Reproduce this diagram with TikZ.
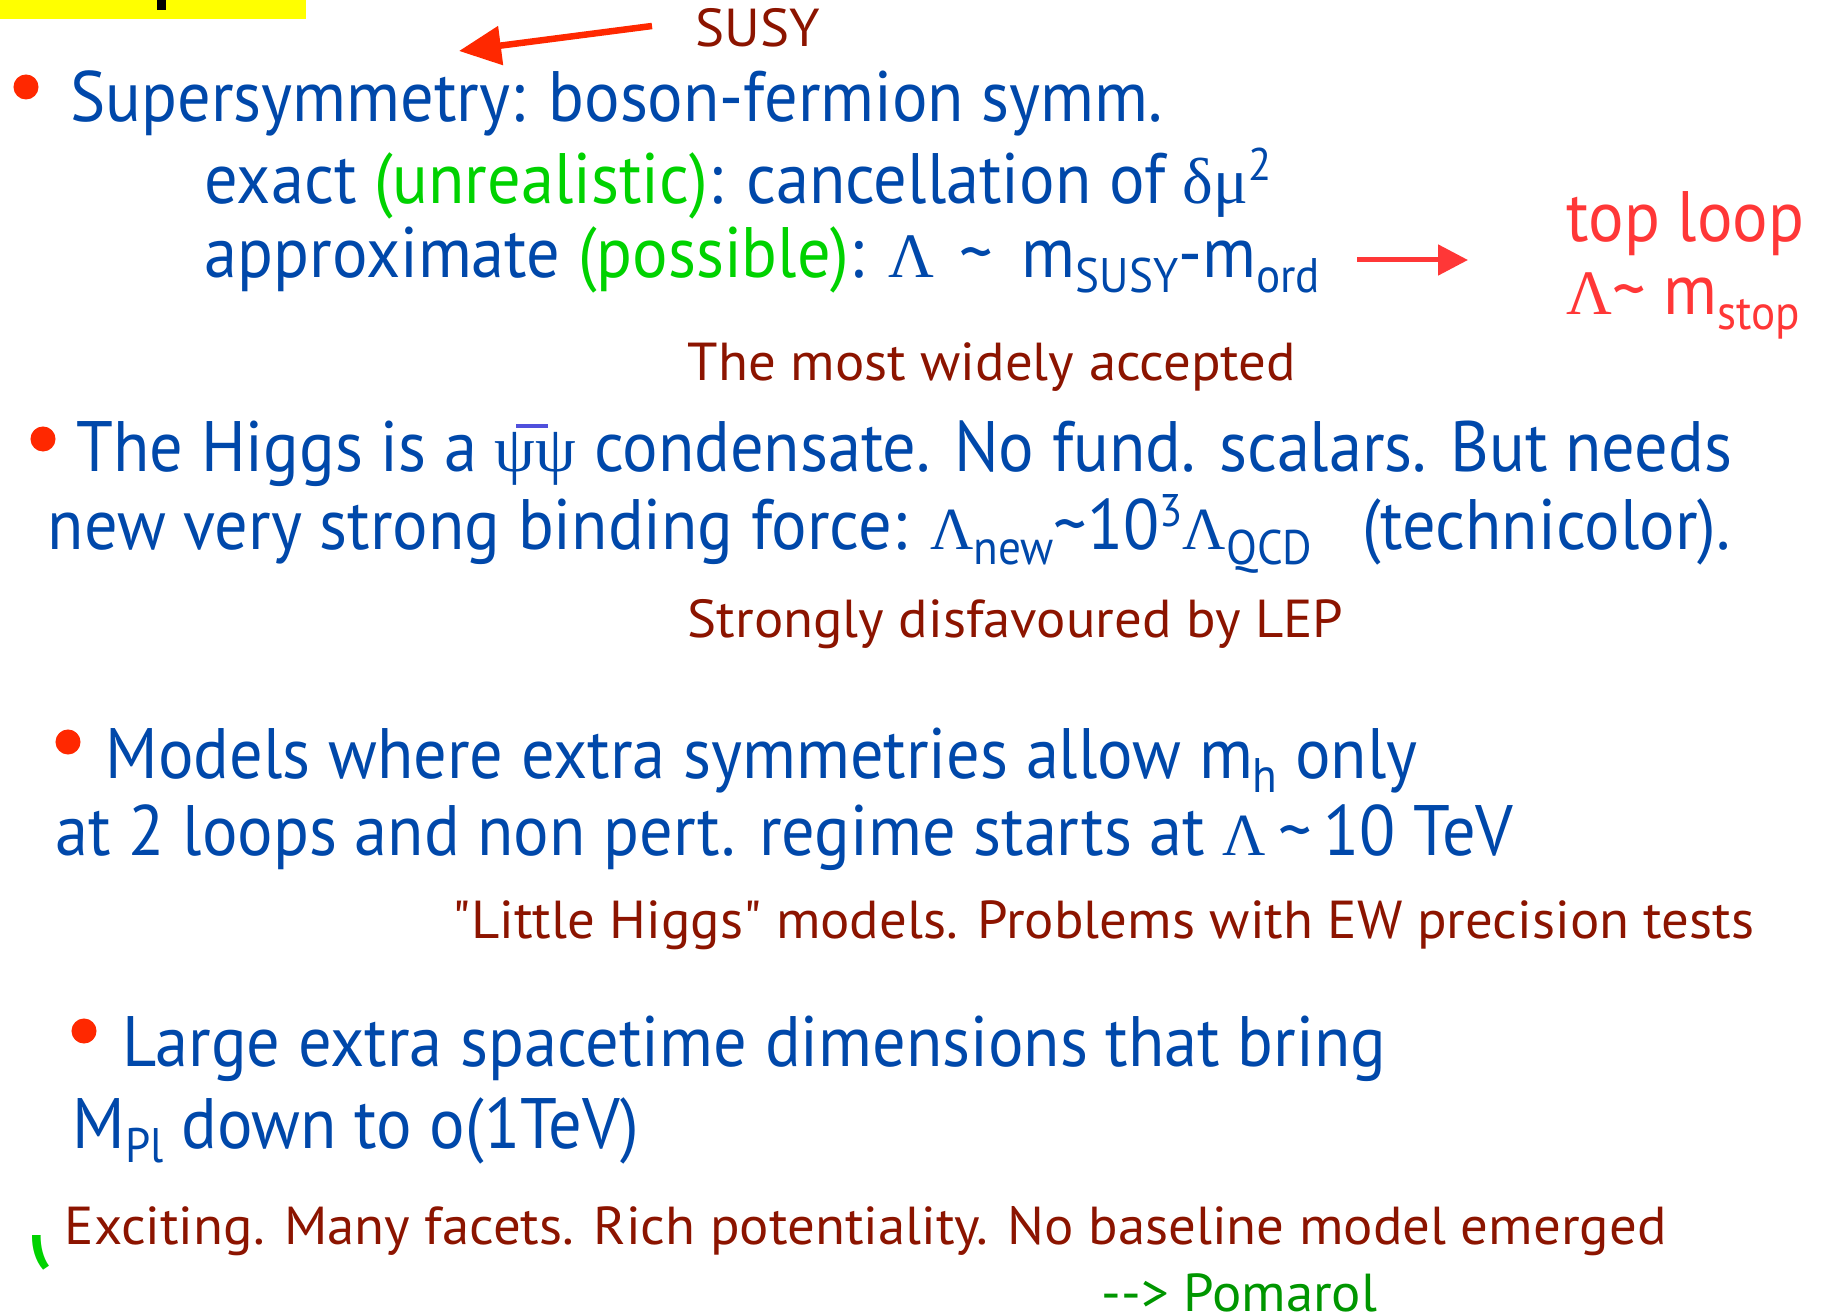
\documentclass[tikz,border=0pt]{standalone}
\usepackage{fontspec}
\setmainfont{PT Sans}
\newfontfamily\bluefam[FakeStretch=0.93]{PT Sans}
\newfontfamily\notefam[FakeStretch=1.025]{PT Sans}
\newfontfamily\grk{Liberation Serif}
\usetikzlibrary{arrows.meta}

\definecolor{txtblue}{RGB}{0,72,170}
\definecolor{notered}{RGB}{140,20,0}
\definecolor{litegreen}{RGB}{0,210,0}
\definecolor{darkgreen}{RGB}{0,150,0}
\definecolor{arrowred}{RGB}{255,55,55}
\definecolor{bulletred}{RGB}{255,40,0}
\definecolor{psibar}{RGB}{80,80,220}
\definecolor{titleyellow}{RGB}{255,255,0}

\newcommand{\gk}[2]{{\grk\fontsize{#1}{#1}\selectfont #2}}
\newcommand{\subtxt}[1]{\raisebox{-0.2em}{\fontsize{13.8}{14}\selectfont #1}}
\newcommand{\suptxt}[1]{\raisebox{0.33em}{\fontsize{13}{13}\selectfont #1}}
\newcommand{\psibarpsi}{\makebox[0pt][l]{\hspace{0.3em}\color{psibar}\rule[0.62em]{0.45em}{0.05em}}\gk{18.5}{ψψ}}

\tikzset{
  bluetext/.style={anchor=base west, inner sep=0pt, text=txtblue,
    font=\bluefam\fontsize{20.3}{24}\selectfont},
  notetext/.style={anchor=base west, inner sep=0pt, text=notered,
    font=\notefam\fontsize{15.2}{18}\selectfont},
  toptext/.style={bluetext, text=arrowred},
  bulletdot/.style={circle, fill=bulletred, inner sep=0pt, minimum size=0.25cm},
  susyarrow/.style={bulletred, line width=0.065cm,
    -{Triangle[length=0.42cm, width=0.38cm]}},
  looparrow/.style={arrowred, line width=0.05cm,
    -{Triangle[length=0.3cm, width=0.3cm]}},
}

\begin{document}
\begin{tikzpicture}[x=0.01cm, y=-0.01cm]
  \useasboundingbox (0,0) rectangle (1827,1316);
  \fill[titleyellow] (0,0) rectangle (306,19);
  \fill[black] (157,0) rectangle (166,10);

  % Nodes
  \node[notetext] (susy) at (695,47) {SUSY};
  \node[bulletdot] (b1) at (26,87) {};
  \node[bluetext] (supersym) at (70,122) {Supersymmetry: boson-fermion symm.};
  \node[bluetext] (exact) at (204,204)
    {exact {\color{litegreen}(unrealistic)}: cancellation of \gk{18.5}{δμ}\suptxt{2}};
  \node[bluetext] (approx) at (204,278)
    {approximate {\color{litegreen}(possible)}:\hspace{0.35em}\gk{18}{Λ}\hspace{0.35em}\textasciitilde\hspace{0.4em}m\subtxt{SUSY}-m\subtxt{ord}};
  \node[toptext] (toploop) at (1566,242) {top loop};
  \node[toptext] (mstop) at (1566,315) {\gk{18}{Λ}\textasciitilde{} m\subtxt{stop}};
  \node[notetext] (accepted) at (687,381) {The most widely accepted};

  \node[bulletdot] (b2) at (43,439) {};
  \node[bluetext] (higgs) at (76,472)
    {The Higgs is a \psibarpsi{} condensate. No fund. scalars. But needs};
  \node[bluetext] (binding) at (47,550)
    {new very strong binding force: \gk{17}{Λ}\subtxt{new}\textasciitilde10\suptxt{3}\gk{17}{Λ}\subtxt{QCD}\hspace{0.7em}(technicolor).};
  \node[notetext] (lep) at (687,638) {Strongly disfavoured by LEP};

  \node[bulletdot] (b3) at (68,742) {};
  \node[bluetext] (models) at (105,778) {Models where extra symmetries allow m\subtxt{h} only};
  \node[bluetext] (loops) at (55,856)
    {at 2 loops and non pert. regime starts at \gk{17}{Λ}\,\textasciitilde\,10 TeV};
  \node[notetext] (little) at (452,938)
    {\symbol{34}Little Higgs\symbol{34} models. Problems with EW precision tests};

  \node[bulletdot] (b4) at (84,1031) {};
  \node[bluetext] (large) at (122,1066) {Large extra spacetime dimensions that bring};
  \node[bluetext] (mpl) at (72,1148) {M\subtxt{Pl} down to o(1TeV)};

  \begin{scope}
    \clip (15,1235) rectangle (60,1270);
    \node[bluetext, text=litegreen] (paren) at (28,1254) {\bfseries(};
  \end{scope}
  \node[notetext] (exciting) at (64,1244)
    {Exciting. Many facets. Rich potentiality. No baseline model emerged};
  \node[notetext, text=darkgreen] (pomarol) at (1101,1311) {-{}-> Pomarol};

  % Edges
  \coordinate (susytail) at (652,26);
  \coordinate (susytip) at (459,51);
  \coordinate (looptail) at (1357,260);
  \coordinate (looptip) at (1468,260);
  \draw[susyarrow] (susytail) -- (susytip);
  \draw[looparrow] (looptail) -- (looptip);
\end{tikzpicture}
\end{document}
